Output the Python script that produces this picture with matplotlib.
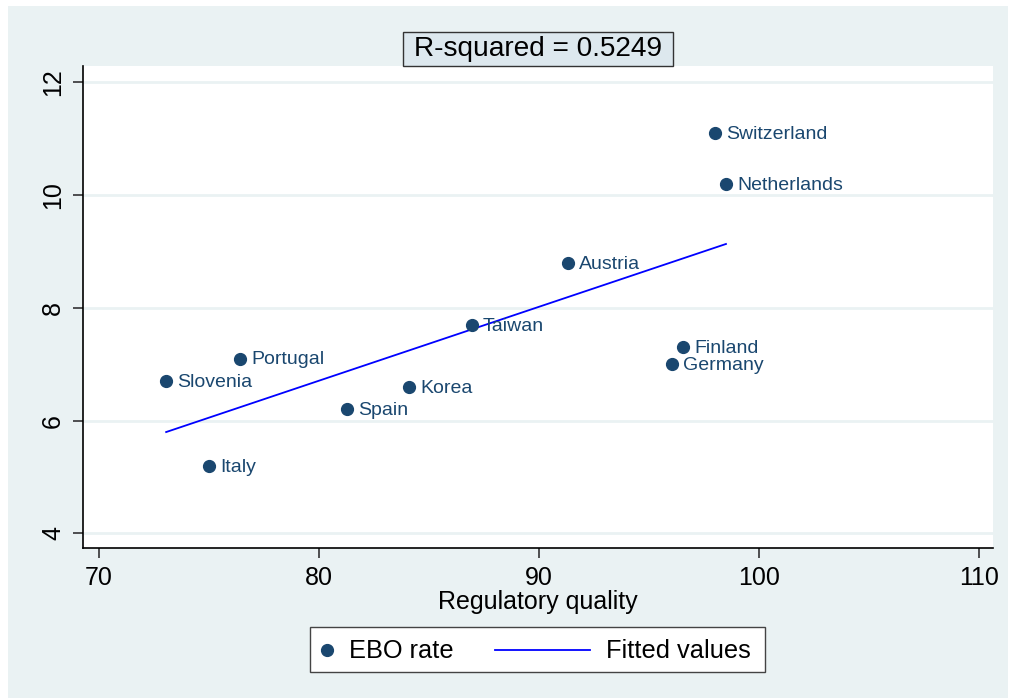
import numpy as np
import matplotlib
matplotlib.use("Agg")
import matplotlib.pyplot as plt
from matplotlib.patches import Rectangle
from matplotlib.lines import Line2D

plt.rcParams['font.family'] = ['Liberation Sans', 'DejaVu Sans']

countries = ["Slovenia", "Portugal", "Italy", "Spain", "Korea", "Taiwan",
             "Austria", "Finland", "Germany", "Switzerland", "Netherlands"]
reg_quality = [73.05, 76.4, 75.0, 81.25, 84.1, 86.95, 91.3, 96.55, 96.05, 98.0, 98.5]
ebo_rate = [6.7, 7.1, 5.2, 6.2, 6.6, 7.7, 8.8, 7.3, 7.0, 11.1, 10.2]
x_ticks = [70, 80, 90, 100, 110]
y_ticks = [4, 6, 8, 10, 12]
r2_text = "R-squared = 0.5249"
legend_labels = ["EBO rate", "Fitted values"]

navy = "#1a476f"
bg = "#eaf2f3"

W, H = 1009, 698


def fx(px):
    return px / W


def fy(py):
    return (H - py) / H


fig = plt.figure(figsize=(W / 100, H / 100), dpi=100, facecolor="white")
fig.patches.append(Rectangle((fx(8), 0), 1000 / W, (H - 6) / H,
                             transform=fig.transFigure, facecolor=bg,
                             edgecolor="none", zorder=-10))

ax = fig.add_axes([fx(83), fy(548), (993 - 83) / W, (548 - 66) / H])
ax.set_zorder(1)
ax.set_facecolor("white")
ax.set_xlim(69.27, 110.64)
ax.set_ylim(3.74, 12.29)

for y in y_ticks:
    ax.axhline(y, color=bg, lw=2, zorder=1)

x = np.array(reg_quality)
y = np.array(ebo_rate)
slope, intercept = np.polyfit(x, y, 1)
xf = np.array([x.min(), x.max()])
ax.plot(xf, intercept + slope * xf, color="#0000ff", lw=1.3, zorder=2)

ax.plot(x, y, "o", color=navy, markersize=8.5, zorder=3, linestyle="none")
for name, xi, yi in zip(countries, reg_quality, ebo_rate):
    ax.annotate(name, (xi, yi), xytext=(8, -1), textcoords="offset points",
                va="center", ha="left", color=navy, fontsize=14, zorder=4)

for s in ["top", "right"]:
    ax.spines[s].set_visible(False)
for s in ["left", "bottom"]:
    ax.spines[s].set_color("black")
    ax.spines[s].set_linewidth(1.2)

ax.set_xticks(x_ticks)
ax.set_yticks(y_ticks)
ax.tick_params(axis="both", direction="out", length=7, width=1.2,
               color="#333333", labelsize=18, pad=6)
ax.tick_params(axis="y", labelrotation=90)
for lab in ax.get_yticklabels():
    lab.set_va("center")

ax.set_xlabel("Regulatory quality", fontsize=18, labelpad=0)

# boxed R-squared caption above the plot
fig.patches.append(Rectangle((fx(403), fy(66)), (673 - 403) / W, (66 - 32) / H,
                             transform=fig.transFigure, facecolor="#dde8ee",
                             edgecolor="#333333", lw=1.0, zorder=2))
fig.text(fx(538), fy(49), r2_text, fontsize=20.2, va="center", ha="center",
         color="black", zorder=3)

# legend box below the plot
fig.patches.append(Rectangle((fx(310), fy(672)), (765 - 310) / W, (672 - 627) / H,
                             transform=fig.transFigure, facecolor="white",
                             edgecolor="#444444", lw=1.0, zorder=2))
fig.lines.append(Line2D([fx(327)], [fy(650)], marker="o", color=navy,
                        markersize=8.5, linestyle="none",
                        transform=fig.transFigure, zorder=3))
fig.text(fx(349), fy(651), legend_labels[0], fontsize=18.3, va="center", ha="left",
         color="black", zorder=3)
fig.lines.append(Line2D([fx(495), fx(590)], [fy(650), fy(650)], color="#0000ff",
                        lw=1.3, transform=fig.transFigure, zorder=3))
fig.text(fx(606), fy(651), legend_labels[1], fontsize=18.3, va="center", ha="left",
         color="black", zorder=3)

fig.savefig("out.png", dpi=100, facecolor="white")
